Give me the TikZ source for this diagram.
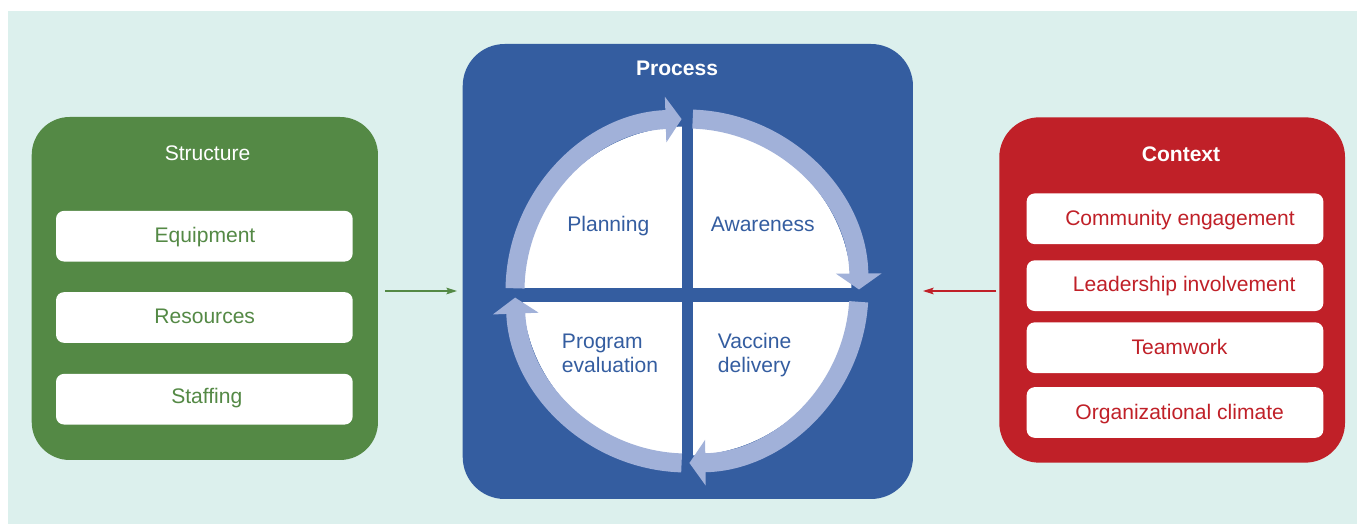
\documentclass[tikz,border=0pt]{standalone}
\usepackage{fontspec}
\setmainfont{Liberation Sans}
\usetikzlibrary{arrows.meta}

\definecolor{bgteal}{RGB}{220,240,237}
\definecolor{sgreen}{RGB}{84,137,69}
\definecolor{pblue}{RGB}{52,93,160}
\definecolor{cred}{RGB}{192,32,40}
\definecolor{ringblue}{RGB}{161,177,217}

\begin{document}
\begin{tikzpicture}[x=0.75pt,y=0.75pt,
  txt/.style={font=\fontsize{15.8pt}{18.2pt}\selectfont, inner sep=0pt,
              text height=11.3pt, text depth=0pt},
  head/.style={txt, text=white},
  boldhead/.style={txt, text=white, font=\fontsize{15.8pt}{18.2pt}\selectfont\bfseries},
  whitebox/.style={fill=white, inner sep=0pt, rounded corners=6pt,
                   minimum width=222.5pt, minimum height=38pt},
  cyc/.style={draw=ringblue, line width=14.25pt,
              -{Triangle[length=12pt,width=33.75pt]}},
  link/.style={line width=0.8pt, -{Stealth[length=8pt,width=5pt,inset=1.5pt]}}
]
\useasboundingbox (0,0) rectangle (1357,524);
\fill[bgteal] (8,0) rectangle (1357,513);

% ---- Structure panel ----
\node[fill=sgreen, inner sep=0pt, minimum width=259.7pt, minimum height=257.25pt,
      rounded corners=28.5pt] (struct) at (204.85,235.5) {};
\node[head] (structtitle) at (207.5,370.7) {Structure};
\node[whitebox] (eqbox)    at (204.35,287.8) {};
\node[whitebox] (resbox)   at (204.35,206.5) {};
\node[whitebox] (staffbox) at (204.35,124.8) {};
\node[txt, text=sgreen] (eq)    at (205,289.2)   {Equipment};
\node[txt, text=sgreen] (res)   at (204.7,207.7) {Resources};
\node[txt, text=sgreen] (staff) at (206.8,128.2) {Staffing};

% ---- Process panel ----
\node[fill=pblue, inner sep=0pt, minimum width=337.7pt, minimum height=341.25pt,
      rounded corners=31.5pt] (proc) at (687.85,252.5) {};
\node[boldhead] (proctitle) at (677,456.3) {Process};

\coordinate (C) at (687,233);
\fill[white] (C) circle[radius=164.5];
% cross dividing the disc into quadrants
\fill[pblue] (681.7,54) rectangle (692.7,412);
\fill[pblue] (505,222.3) rectangle (868,235.5);

% cycle arrows
\draw[cyc] ([shift={(179.1:172)}]C) arc[start angle=179.1, end angle=91.8, radius=172];
\draw[cyc] ([shift={(88.1:172)}]C)  arc[start angle=88.1,  end angle=0.5,   radius=172];
\draw[cyc] ([shift={(-3.6:172)}]C)  arc[start angle=-3.6,  end angle=-89.2, radius=172];
\draw[cyc] ([shift={(-91.8:172)}]C) arc[start angle=-91.8, end angle=-177.8, radius=172];

\node[txt, text=pblue] (plan)  at (608.3,300) {Planning};
\node[txt, text=pblue] (aware) at (762.8,300) {Awareness};
\node[txt, text=pblue, anchor=west] (prog1) at (561.7,183)   {Program};
\node[txt, text=pblue, anchor=west] (prog2) at (561.7,158.7) {evaluation};
\node[txt, text=pblue, anchor=west] (vac1)  at (717.7,183)   {Vaccine};
\node[txt, text=pblue, anchor=west] (vac2)  at (717.7,158.7) {delivery};

% ---- Context panel ----
\node[fill=cred, inner sep=0pt, minimum width=259.3pt, minimum height=259pt,
      rounded corners=30pt] (ctx) at (1172.15,234) {};
\node[boldhead] (ctxtitle) at (1181,369.7) {Context};
\node[whitebox] (cebox) at (1175,305.2) {};
\node[whitebox] (libox) at (1175,238.3) {};
\node[whitebox] (twbox) at (1175,176.3) {};
\node[whitebox] (ocbox) at (1175,111.5) {};
\node[txt, text=cred] (ce) at (1180,305.7)   {Community engagement};
\node[txt, text=cred] (li) at (1184.2,240.3) {Leadership involvement};
\node[txt, text=cred] (tw) at (1179.5,176.8) {Teamwork};
\node[txt, text=cred] (oc) at (1179.7,112.3) {Organizational climate};

% ---- influences on the process ----
\draw[link, draw=sgreen, shorten <=5.25pt, shorten >=4.1pt]
  (struct.east |- C) -- (proc.west |- C);
\draw[link, draw=cred, shorten <=2pt, shorten >=7.3pt]
  (ctx.west |- C) -- (proc.east |- C);
\end{tikzpicture}
\end{document}
